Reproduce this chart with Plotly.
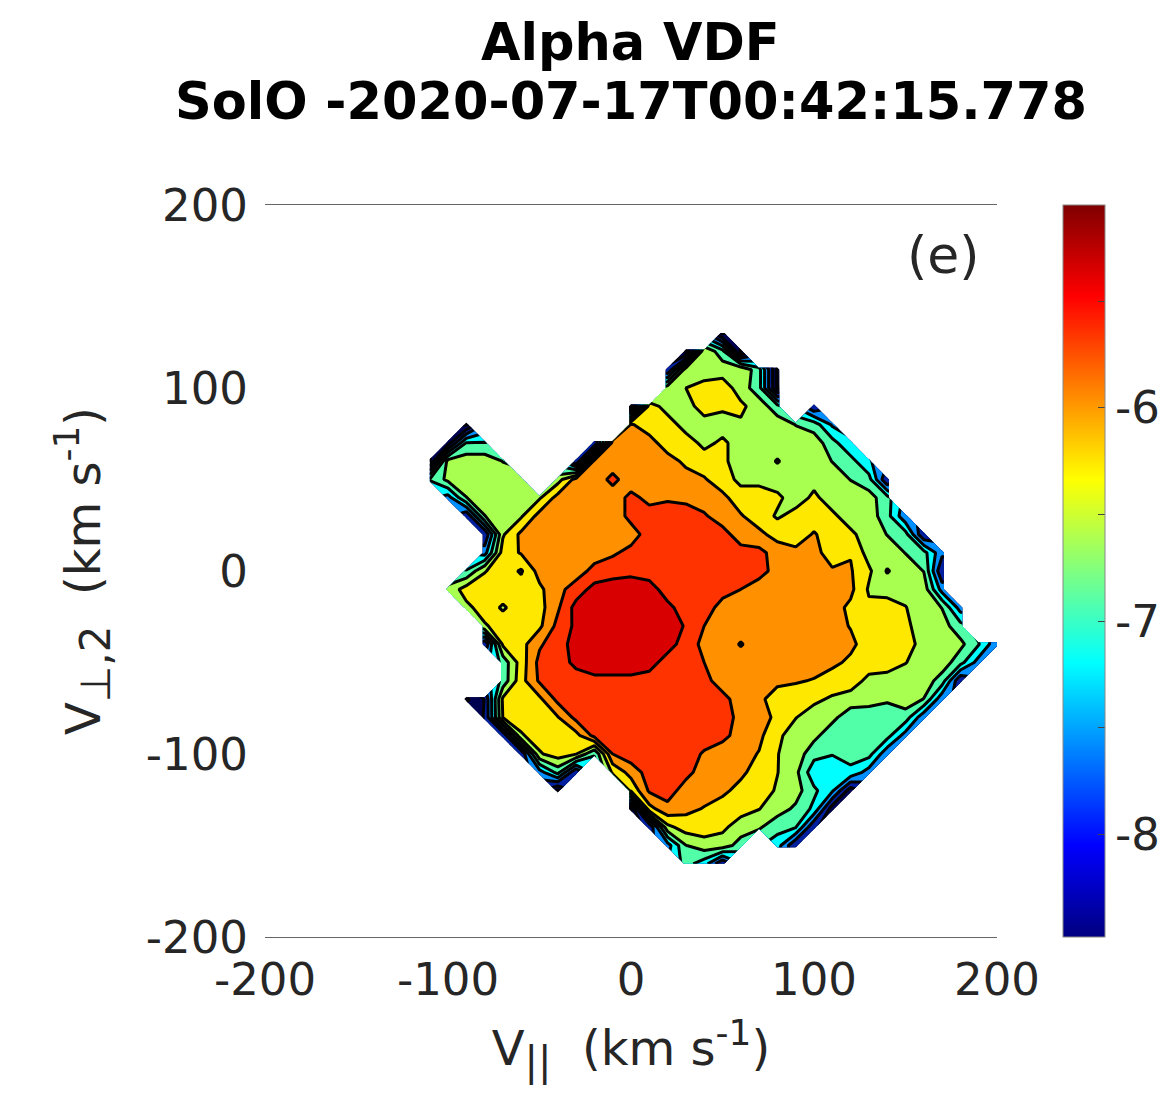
import plotly.graph_objects as go

# Alpha VDF values (log10): (v_perp2, first v_par, values every 10 km/s)
o = None
row_130 = (130, 50, [-8.4])
row_120 = (120, 30, [-8.4,-6.4,-6.9,-8.4])
row_110 = (110, 20, [-8.0,-6.5,-6.45,-6.5,-6.4,-6.9,-8.4])
row_100 = (100, 20, [-6.5,-6.36,-6.3,-6.2,-6.5,-6.9,-8.4])
row_90 = (90, 0, [-8.4,-6.2,-6.5,-6.5,-6.2,-6.3,-6.3,-6.5,-6.9,o,-8.0])
row_80 = (80, -90, [-8.4,o,o,o,o,o,o,o,o,-6.0,-6.2,-6.2,-6.5,-6.5,-6.5,-6.4,-6.5,-6.5,-6.7,-6.85,-7.4])
row_70 = (70, -100, [-8.2,-7.0,-7.0,o,o,o,o,o,-8.0,-5.9,-5.9,-5.9,-6.2,-6.2,-6.45,-6.3,-6.5,-6.5,-6.5,-6.5,-6.5,-6.9,-7.3])
row_60 = (60, -110, [-8.4,-6.55,-6.5,-6.5,-6.7,o,o,o,-8.0,-5.9,-5.9,-5.9,-5.9,-5.9,-6.1,-6.2,-6.3,-6.5,-6.5,-6.34,-6.5,-6.5,-6.7,-6.9,-7.3])
row_50 = (50, -110, [-7.0,-6.6,-6.5,-6.5,-6.5,-6.5,o,-6.5,-5.9,-5.9,-5.6,-5.9,-5.9,-5.9,-5.9,-6.0,-6.2,-6.45,-6.45,-6.5,-6.5,-6.45,-6.5,-6.7,-6.9,-8.0])
row_40 = (40, -100, [-7.5,-6.7,-6.5,-6.5,-6.5,-6.4,-5.9,-5.9,-5.9,-5.9,-5.6,-5.8,-5.75,-5.8,-5.9,-5.95,-6.2,-6.2,-6.3,-6.5,-6.3,-6.5,-6.5,-6.55,-6.9])
row_30 = (30, -90, [-8.0,-6.7,-6.5,-6.4,-5.9,-5.9,-5.9,-5.9,-5.9,-5.6,-5.55,-5.5,-5.5,-5.65,-5.9,-6.0,-6.2,-6.4,-6.25,-6.2,-6.3,-6.5,-6.5,-6.9,-7.6])
row_20 = (20, -80, [-8.0,-6.4,-5.95,-5.9,-5.9,-5.9,-5.9,-5.9,-5.85,-5.55,-5.5,-5.5,-5.5,-5.55,-5.9,-5.95,-6.15,-6.2,-6.0,-6.2,-6.3,-6.5,-6.7,-6.9,-8.0])
row_10 = (10, -80, [-7.5,-6.2,-6.0,-5.9,-5.9,-5.9,-5.85,-5.75,-5.6,-5.5,-5.5,-5.5,-5.5,-5.5,-5.55,-5.6,-5.85,-5.95,-5.95,-6.15,-6.05,-6.5,-6.5,-6.7,-6.9,-7.6])
row_0 = (0, -90, [-7.0,-6.38,-6.2,-6.4,-5.9,-5.9,-5.85,-5.6,-5.5,-5.45,-5.5,-5.5,-5.55,-5.55,-5.55,-5.55,-5.55,-5.85,-5.9,-5.9,-6.0,-6.0,-6.3,-6.72,-6.5,-6.7,-8.0])
row_m10 = (-10, -100, [-6.6,-6.2,-6.2,-6.2,-6.2,-6.1,-5.8,-5.55,-5.25,-5.2,-5.2,-5.25,-5.5,-5.5,-5.5,-5.55,-5.7,-5.9,-5.9,-5.9,-5.9,-5.9,-5.95,-6.4,-6.5,-6.45,-6.5,-7.5])
row_m20 = (-20, -90, [-6.45,-6.2,-6.4,-6.2,-6.15,-5.75,-5.25,-5.2,-5.2,-5.2,-5.2,-5.3,-5.5,-5.5,-5.85,-5.9,-5.9,-5.9,-5.9,-5.9,-5.9,-6.1,-6.3,-6.2,-6.35,-6.5,-6.7,-7.5])
row_m30 = (-30, -80, [-6.4,-6.2,-6.2,-6.1,-5.6,-5.3,-5.2,-5.2,-5.2,-5.2,-5.2,-5.4,-5.7,-5.85,-5.9,-5.9,-5.9,-5.9,-5.9,-5.9,-6.05,-6.2,-6.2,-6.3,-6.5,-6.55,-6.9])
row_m40 = (-40, -80, [-8.0,-6.3,-6.15,-5.75,-5.5,-5.25,-5.2,-5.2,-5.2,-5.2,-5.25,-5.5,-5.8,-5.9,-5.67,-5.9,-5.9,-5.9,-5.9,-5.9,-5.95,-6.2,-6.2,-6.2,-6.5,-6.5,-6.6,-7.0,-7.6])
row_m50 = (-50, -70, [-6.9,-6.2,-5.6,-5.5,-5.3,-5.2,-5.2,-5.2,-5.25,-5.5,-5.5,-5.7,-5.9,-5.9,-5.9,-5.9,-5.9,-5.9,-5.95,-6.1,-6.2,-6.2,-6.35,-6.5,-6.5,-6.9,-7.5])
row_m60 = (-60, -70, [-6.9,-6.15,-5.65,-5.5,-5.5,-5.45,-5.45,-5.45,-5.5,-5.5,-5.5,-5.6,-5.85,-5.9,-5.9,-5.95,-6.0,-6.05,-6.2,-6.2,-6.45,-6.5,-6.5,-6.5,-6.85,-8.0])
row_m70 = (-70, -90, [-8.4,-8.0,-6.3,-6.2,-6.1,-5.6,-5.5,-5.5,-5.5,-5.5,-5.5,-5.5,-5.5,-5.5,-5.6,-5.85,-5.95,-6.2,-6.2,-6.3,-6.4,-6.5,-6.55,-6.65,-6.5,-6.7,-7.6])
row_m80 = (-80, -80, [-8.0,-6.35,-6.2,-6.2,-6.05,-5.6,-5.5,-5.5,-5.5,-5.5,-5.5,-5.5,-5.5,-5.55,-5.8,-5.9,-6.1,-6.35,-6.5,-6.6,-6.9,-6.9,-6.85,-6.85,-7.6])
row_m90 = (-90, -70, [-8.0,-6.4,-6.2,-6.2,-6.15,-5.6,-5.5,-5.5,-5.5,-5.5,-5.5,-5.5,-5.6,-5.85,-5.95,-6.3,-6.5,-6.6,-6.9,-6.9,-6.9,-6.9,-7.5])
row_m100 = (-100, -60, [-8.0,-6.4,-6.2,-6.35,-7.0,-5.7,-5.5,-5.5,-5.5,-5.5,-5.75,-5.9,-5.9,-6.05,-6.35,-6.5,-6.9,-7.0,-6.9,-6.9,-7.6])
row_m110 = (-110, -50, [-7.5,-6.9,-8.0,o,-6.3,-5.9,-5.55,-5.5,-5.6,-5.85,-5.9,-5.95,-6.2,-6.35,-6.6,-7.25,-7.3,-7.1,-7.5])
row_m120 = (-120, -40, [-8.4,o,o,o,-6.3,-5.65,-5.55,-5.85,-5.9,-5.95,-6.15,-6.2,-6.4,-6.55,-6.95,-7.3,-8.2])
row_m130 = (-130, 0, [-8.4,-6.15,-5.8,-5.95,-6.05,-6.2,-6.25,-6.35,-6.55,-6.75,-7.1,-8.2])
row_m140 = (-140, 10, [-8.0,-6.45,-6.2,-6.2,-6.3,-6.5,-6.65,-6.9,-7.0,-8.0])
row_m150 = (-150, 20, [-7.5,-6.7,-6.5,-6.5,-6.85,o,-7.2,-8.0])
row_m160 = (-160, 30, [-6.9,-7.2,-8.0])

rows = [row_m160,row_m150,row_m140,row_m130,row_m120,row_m110,row_m100,row_m90,row_m80,row_m70,
        row_m60,row_m50,row_m40,row_m30,row_m20,row_m10,row_0,row_10,row_20,row_30,row_40,row_50,
        row_60,row_70,row_80,row_90,row_100,row_110,row_120,row_130]

v_par = list(range(-110, 201, 10))
v_perp = [r[0] for r in rows]
vdf = []
for _, x0, vals in rows:
    line = [None] * len(v_par)
    i0 = v_par.index(x0)
    for k, val in enumerate(vals):
        line[i0 + k] = val
    vdf.append(line)

level_start = -8.34
level_end = -5.37
level_step = 0.33
band_colors = ["#000030","#000050","#0020A0","#0090FF","#00FFFF","#50FFA8",
               "#A8FF50","#FFE800","#FF9000","#FF3300","#D80000"]
jet = [[0,"#000080"],[0.125,"#0000FF"],[0.375,"#00FFFF"],[0.625,"#FFFF00"],[0.875,"#FF0000"],[1,"#800000"]]
cbar_vals = [-8,-7.5,-7,-6.5,-6,-5.5]
cbar_text = ["-8","","-7","","-6",""]
axis_vals = [-200,-100,0,100,200]
axis_text = ["-200","-100","0","100","200"]

FONT = "DejaVu Sans"
INK = "#262626"
n = len(band_colors)
TITLE_X = "V<sub><span style='font-size:40px'>||</span></sub>  (km s<sup><span style='font-size:36px'>-1</span></sup>)"
TITLE_Y = "V<sub><span style='font-size:42px'>⊥,2</span></sub>  (km s<sup><span style='font-size:36px'>-1</span></sup>)"

fig = go.Figure()
fig.add_trace(go.Contour(
    x=v_par, y=v_perp, z=vdf, connectgaps=False, showscale=False, hoverongaps=False,
    zmin=level_start-level_step/2, zmax=level_end+level_step/2,
    colorscale=[[i/(n-1), c] for i, c in enumerate(band_colors)],
    autocontour=False,
    contours=dict(start=level_start, end=level_end, size=level_step, coloring="fill", showlines=True),
    line=dict(color="black", width=3, smoothing=0),
))
fig.add_trace(go.Scatter(
    x=[0], y=[0], mode="markers", hoverinfo="skip", showlegend=False,
    marker=dict(size=1, opacity=0, color=[-6], cmin=-8.48, cmax=-5.05, colorscale=jet, showscale=True,
                colorbar=dict(x=(1063-265)/732, xanchor="left", xpad=0, y=0.5, yanchor="middle", ypad=0,
                              len=1, lenmode="fraction", thickness=42, thicknessmode="pixels",
                              outlinecolor="#888888", outlinewidth=1,
                              tickmode="array", tickvals=cbar_vals, ticktext=cbar_text,
                              ticks="inside", ticklen=7, tickcolor="#444444", tickwidth=1,
                              tickfont=dict(family=FONT, size=45, color=INK))),
))
fig.update_layout(
    width=1166, height=1094, margin=dict(l=257, r=177, t=197, b=165, autoexpand=False),
    paper_bgcolor="white", plot_bgcolor="white", showlegend=False,
    font=dict(family=FONT, size=45, color=INK),
    xaxis=dict(range=[-200,200], tickmode="array", tickvals=axis_vals, ticktext=axis_text,
               showgrid=False, zeroline=False, showline=True, mirror=True, linecolor="#666666", linewidth=1,
               ticks="outside", ticklen=3, tickcolor="rgba(0,0,0,0)",
               tickfont=dict(family=FONT, size=45, color=INK),
               title=dict(text=TITLE_X, standoff=26, font=dict(family=FONT, size=48, color=INK))),
    yaxis=dict(range=[-200,200], tickmode="array", tickvals=axis_vals, ticktext=axis_text,
               showgrid=False, zeroline=False, showline=False,
               ticks="outside", ticklen=7, tickcolor="rgba(0,0,0,0)",
               tickfont=dict(family=FONT, size=45, color=INK),
               title=dict(text=TITLE_Y, standoff=30, font=dict(family=FONT, size=48, color=INK))),
    annotations=[
        dict(text="<b>Alpha VDF</b>", xref="paper", yref="paper", x=(630-265)/732, y=(937-42)/732,
             xanchor="center", yanchor="middle", showarrow=False, font=dict(family=FONT, size=51, color="black")),
        dict(text="<b>SolO -2020-07-17T00:42:15.778</b>", xref="paper", yref="paper", x=(631-265)/732, y=(937-102)/732,
             xanchor="center", yanchor="middle", showarrow=False, font=dict(family=FONT, size=51, color="black")),
        dict(text="(e)", xref="paper", yref="paper", x=(943-265)/732, y=(937-255)/732,
             xanchor="center", yanchor="middle", showarrow=False, font=dict(family=FONT, size=52, color=INK)),
    ],
)
fig.write_html("out.html")
